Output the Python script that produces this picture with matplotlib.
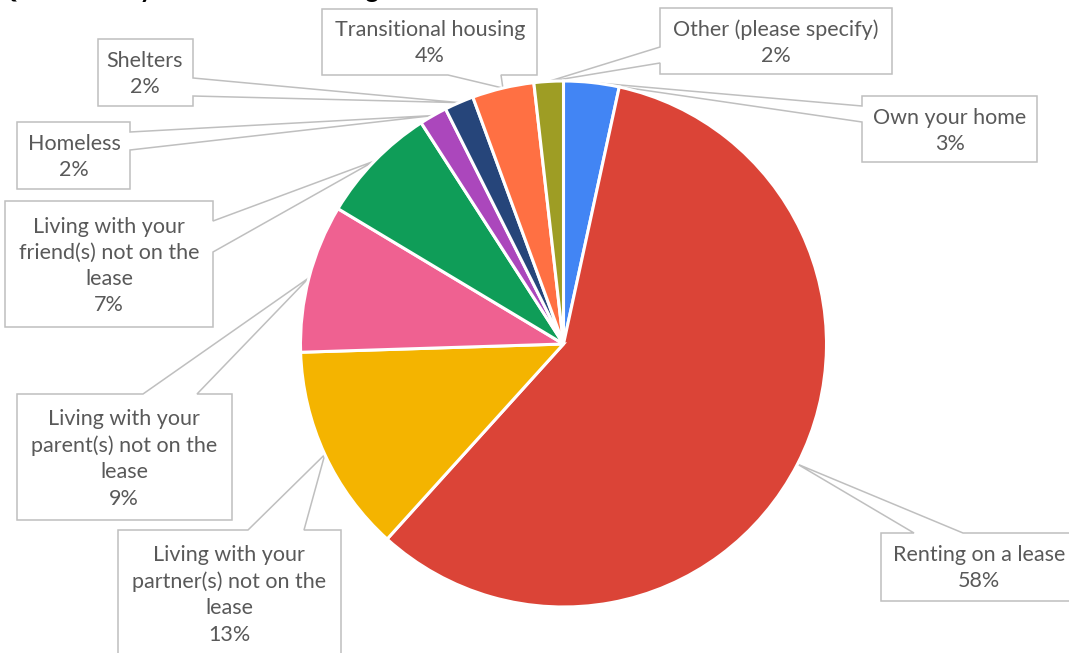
import numpy as np
import matplotlib
matplotlib.use("Agg")
import matplotlib.pyplot as plt
from matplotlib.patches import Polygon

# Survey responses: current housing situation (share of respondents, %)
categories = [
    "Own your home",
    "Renting on a lease",
    "Living with your\npartner(s) not on the\nlease",
    "Living with your\nparent(s) not on the\nlease",
    "Living with your\nfriend(s) not on the\nlease",
    "Homeless",
    "Shelters",
    "Transitional housing",
    "Other (please specify)",
]
shares = [3.4, 58.3, 12.8, 9.1, 7.3, 1.7, 1.8, 3.8, 1.8]
colors = ["#4285F4", "#DB4437", "#F4B400", "#EF6191", "#0F9D58",
          "#AB47BC", "#26457A", "#FF7043", "#9E9D24"]

title = "Q6: What is your current housing situation?"

W, H = 1069, 653

# Callout layout in pixel coordinates (y measured downwards):
# box (x0, y0, x1, y1), side the pointer leaves from, pointer base span,
# text centre.
callouts = [
    ((862, 96, 1037, 162), "left", (106, 122), (950, 131)),
    ((881, 533, 1077, 601), "top", (914, 963), (979, 568)),
    ((118, 530, 341, 668), "top", (248, 304), (229, 595)),
    ((17, 394, 232, 520), "top", (143, 197), (124, 459)),
    ((5, 201, 213, 327), "right", (221, 252), (109, 266)),
    ((17, 122, 130, 189), "right", (132, 150), (74, 157)),
    ((98, 39, 193, 106), "right", (78, 96), (145, 74)),
    ((322, 9, 537, 75), "bottom", (448, 501), (430, 43)),
    ((660, 8, 892, 74), "left", (47, 63), (776, 43)),
]


def flip(y):
    return H - y


def callout_outline(box, side, span, tip):
    x0, y0, x1, y1 = box
    tx, ty = tip
    a, b = span
    pts = [(x0, y0)]
    if side == "top":
        pts += [(min(a, b), y0), (tx, ty), (max(a, b), y0)]
    pts.append((x1, y0))
    if side == "right":
        pts += [(x1, min(a, b)), (tx, ty), (x1, max(a, b))]
    pts.append((x1, y1))
    if side == "bottom":
        pts += [(max(a, b), y1), (tx, ty), (min(a, b), y1)]
    pts.append((x0, y1))
    if side == "left":
        pts += [(x0, max(a, b)), (tx, ty), (x0, min(a, b))]
    return [(x, flip(y)) for x, y in pts]


fig = plt.figure(figsize=(W / 100, H / 100), dpi=100)
ax = fig.add_axes([0, 0, 1, 1])

cx, cy, r = 563.5, flip(344), 263
wedges, _ = ax.pie(
    shares, colors=colors, startangle=90, counterclock=False,
    radius=r, center=(cx, cy),
    wedgeprops=dict(edgecolor="white", linewidth=2.2, zorder=3),
)
ax.set_xlim(0, W)
ax.set_ylim(0, H)
ax.set_aspect("equal")
ax.axis("off")

text_color = "#595959"
for w, name, val, (box, side, span, tc) in zip(wedges, categories, shares, callouts):
    mid = np.deg2rad((w.theta1 + w.theta2) / 2)
    tip_x = w.center[0] + w.r * np.cos(mid)
    tip_y = w.center[1] + w.r * np.sin(mid)
    outline = callout_outline(box, side, span, (tip_x, flip(tip_y)))
    ax.add_patch(Polygon(outline, closed=True, facecolor="white",
                         edgecolor="#BFBFBF", linewidth=1.1, zorder=2))
    ax.text(tc[0], flip(tc[1]), f"{name}\n{val:.0f}%", ha="center", va="center",
            multialignment="center", fontsize=15.5, family="Lato",
            color=text_color, linespacing=1.38, zorder=4)

# Question heading sits above the visible canvas; only descenders show
ax.text(-4, flip(-2.5), title, ha="left", va="baseline", fontsize=18.5,
        family="Lato", fontweight="bold", color="black", zorder=5)

fig.savefig("out.png", dpi=100)
